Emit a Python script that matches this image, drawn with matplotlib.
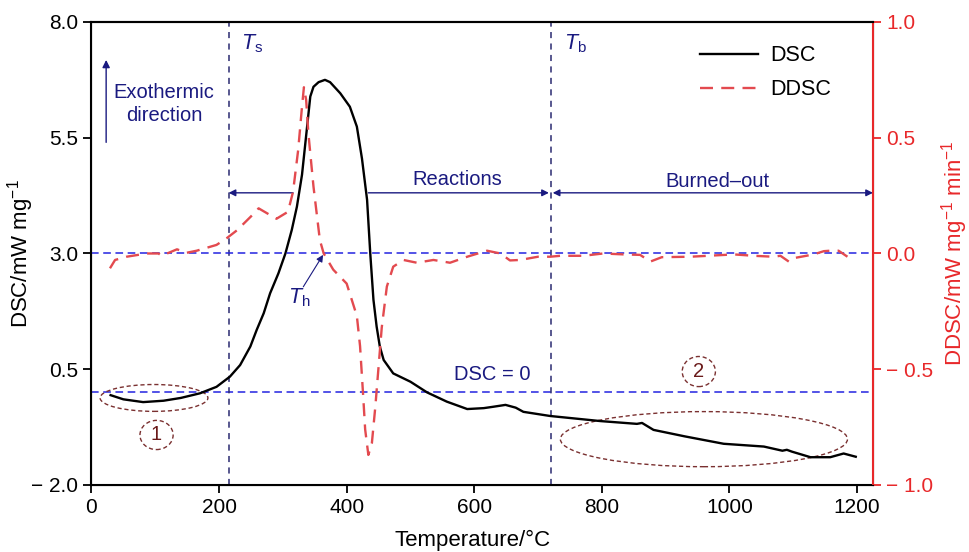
import matplotlib
matplotlib.use('Agg')
import matplotlib.pyplot as plt
from matplotlib.patches import Ellipse
from matplotlib.lines import Line2D

plt.rcParams['font.family'] = ['Liberation Sans', 'DejaVu Sans']
plt.rcParams['mathtext.fontset'] = 'custom'
plt.rcParams['mathtext.rm'] = 'Liberation Sans'
plt.rcParams['mathtext.it'] = 'Liberation Sans:italic'

# DSC curve (left axis)
dsc_t = [30, 50, 81, 113, 140, 170, 196, 217, 233, 249, 259, 270, 280, 293, 304,
         314, 322, 330, 338, 343, 348, 356, 366, 374, 390, 405, 416, 424, 432,
         437, 442, 447, 452, 458, 473, 500, 526, 557, 589, 615, 630, 649, 665,
         677, 719, 798, 855, 863, 881, 930, 991, 1054, 1083, 1090, 1098, 1127,
         1158, 1179, 1198]
dsc_v = [-0.06, -0.15, -0.21, -0.18, -0.12, -0.02, 0.12, 0.34, 0.59, 0.99, 1.35,
         1.71, 2.14, 2.57, 3.0, 3.51, 4.01, 4.7, 5.74, 6.39, 6.60, 6.70, 6.75,
         6.70, 6.46, 6.17, 5.74, 5.05, 4.16, 3.0, 2.0, 1.42, 0.99, 0.70, 0.41,
         0.23, 0.0, -0.2, -0.36, -0.34, -0.31, -0.27, -0.33, -0.42, -0.51, -0.62,
         -0.68, -0.66, -0.81, -0.95, -1.11, -1.17, -1.26, -1.24, -1.28, -1.40,
         -1.40, -1.32, -1.39]

# DDSC curve (right axis)
ddsc_t = [29, 37, 55, 87, 105, 110, 134, 149, 165, 196, 212, 228, 250, 262, 280,
          290, 308, 316, 324, 330, 333, 336.5, 340, 348, 358, 364, 379, 400, 416,
          421, 426, 429, 434, 439.5, 445, 455, 463, 473, 489, 510, 536, 562, 589,
          620, 641, 656, 672, 700, 719, 735, 771, 802, 834, 860, 876, 894, 939,
          1007, 1038, 1069, 1080, 1093, 1101, 1132, 1148, 1158, 1171, 1185]
ddsc_v = [-0.064, -0.028, -0.014, 0.0, 0.0, -0.01, 0.018, 0.003, 0.012, 0.037,
          0.066, 0.10, 0.16, 0.195, 0.166, 0.15, 0.18, 0.267, 0.447, 0.634, 0.718,
          0.663, 0.519, 0.289, 0.058, 0.0, -0.07, -0.13, -0.27, -0.40, -0.62,
          -0.76, -0.87, -0.82, -0.66, -0.32, -0.143, -0.057, -0.028, -0.04,
          -0.028, -0.04, -0.014, 0.012, 0.0, -0.03, -0.028, -0.014, -0.014,
          -0.01, -0.01, 0.0, -0.004, -0.006, -0.035, -0.016, -0.014, -0.004,
          -0.01, -0.014, -0.01, -0.035, -0.02, -0.004, 0.01, 0.012, 0.012, -0.014]

x_ticks = [0, 200, 400, 600, 800, 1000, 1200]
left_ticks = [-2.0, 0.5, 3.0, 5.5, 8.0]
left_labels = ['\u2212 2.0', '0.5', '3.0', '5.5', '8.0']
right_ticks = [-1.0, -0.5, 0.0, 0.5, 1.0]
right_labels = ['\u2212 1.0', '\u2212 0.5', '0.0', '0.5', '1.0']

t_s = 215
t_b = 720

navy = '#1a1a80'
red = '#e8282a'
ddsc_col = '#e34a4f'
brown = '#7a3030'
fs = 15
fs_lab = 16
fs_txt = 14.5

fig = plt.figure(figsize=(9.69, 5.52), dpi=100)
ax = fig.add_axes([0.0944, 0.1214, 0.8065, 0.8388])
ax2 = ax.twinx()

ax.plot(dsc_t, dsc_v, color='black', lw=1.7, zorder=5)
ax2.plot(ddsc_t, ddsc_v, color=ddsc_col, lw=1.7, linestyle=(0, (5.5, 3.5)), zorder=4)

ax.set_xlim(0, 1225)
ax.set_ylim(-2, 8)
ax2.set_ylim(-1, 1)

# reference lines
ax.axhline(0, color='#2323e0', lw=1.1, linestyle=(0, (5, 3)), zorder=2)
ax2.axhline(0, color='#2323e0', lw=1.1, linestyle=(0, (5, 3)), zorder=2)
for tv in (t_s, t_b):
    ax.axvline(tv, color='#2a2a70', lw=1.1, linestyle=(0, (4, 3.5)), zorder=2)

ax.set_xticks(x_ticks)
ax.set_yticks(left_ticks)
ax.set_yticklabels(left_labels)
ax2.set_yticks(right_ticks)
ax2.set_yticklabels(right_labels)

ax.tick_params(axis='both', direction='out', length=6, width=1.3, labelsize=fs)
ax2.tick_params(axis='y', direction='out', length=6, width=1.3, labelsize=fs,
                colors=red)
for sp in ['left', 'bottom', 'top']:
    ax.spines[sp].set_linewidth(1.5)
ax2.spines['right'].set_color(red)
ax2.spines['right'].set_linewidth(1.5)
ax2.spines['top'].set_linewidth(1.5)

ax.set_xlabel('Temperature/\u00b0C', fontsize=fs_lab)
ax.set_ylabel(r'DSC/mW mg$^{-1}$', fontsize=fs_lab)
ax2.set_ylabel(r'DDSC/mW mg$^{-1}$ min$^{-1}$', fontsize=fs_lab, color=red)
ax.xaxis.set_label_coords(0.488, -0.098)
ax.yaxis.set_label_coords(-0.071, 0.5)
ax2.yaxis.set_label_coords(1.084, 0.5)

# annotations
ax.annotate('', xy=(23, 7.24), xytext=(23, 5.34),
            arrowprops=dict(arrowstyle='-|>', color=navy, lw=1.0, mutation_scale=11))
ax.text(114, 6.23, 'Exothermic\ndirection', color=navy, fontsize=fs_txt,
        ha='center', va='center', linespacing=1.25)

ax.text(234, 7.52, r'$T_{\rm s}$', color=navy, fontsize=fs_txt + 1, ha='left', va='center')
ax.text(741, 7.52, r'$T_{\rm b}$', color=navy, fontsize=fs_txt + 1, ha='left', va='center')

y_arr = 4.31
ax.annotate('', xy=(t_s, y_arr), xytext=(316, y_arr),
            arrowprops=dict(arrowstyle='-|>', color=navy, lw=1.0, mutation_scale=10,
                            shrinkA=0, shrinkB=0))
ax.annotate('', xy=(t_b - 3, y_arr), xytext=(434, y_arr),
            arrowprops=dict(arrowstyle='-|>', color=navy, lw=1.0, mutation_scale=10,
                            shrinkA=0, shrinkB=0))
ax.annotate('', xy=(t_b + 3, y_arr), xytext=(1225, y_arr),
            arrowprops=dict(arrowstyle='<|-|>', color=navy, lw=1.0, mutation_scale=10,
                            shrinkA=0, shrinkB=0))
ax.text(574, 4.59, 'Reactions', color=navy, fontsize=fs_txt, ha='center', va='center')
ax.text(981, 4.55, 'Burned\u2013out', color=navy, fontsize=fs_txt, ha='center', va='center')

ax.annotate('', xy=(363, 2.97), xytext=(332, 2.28),
            arrowprops=dict(arrowstyle='-|>', color=navy, lw=0.8, mutation_scale=10,
                            shrinkA=0, shrinkB=0))
ax.text(325, 2.05, r'$T_{\rm h}$', color=navy, fontsize=fs_txt + 1, ha='center', va='center')

ax.text(628, 0.38, 'DSC = 0', color=navy, fontsize=fs_txt, ha='center', va='center')

# highlighted regions
ell_kw = dict(fill=False, edgecolor=brown, lw=1.0, linestyle=(0, (3, 2)), zorder=3)
ax.add_patch(Ellipse((98, -0.12), 169, 0.58, **ell_kw))
ax.add_patch(Ellipse((960, -1.01), 450, 1.19, **ell_kw))
ax.add_patch(Ellipse((102, -0.92), 52, 0.63, **ell_kw))
ax.add_patch(Ellipse((952, 0.45), 52, 0.65, **ell_kw))
ax.text(102, -0.92, '1', color='#6a1a1a', fontsize=fs_txt, ha='center', va='center')
ax.text(952, 0.45, '2', color='#6a1a1a', fontsize=fs_txt, ha='center', va='center')

handles = [Line2D([], [], color='black', lw=1.7),
           Line2D([], [], color=ddsc_col, lw=1.7, linestyle=(0, (5.5, 3.5)))]
ax.legend(handles, ['DSC', 'DDSC'], loc='upper left', bbox_to_anchor=(0.779, 0.95),
          frameon=False, fontsize=fs + 0.5, borderpad=0, borderaxespad=0,
          handlelength=2.7, handletextpad=0.55, labelspacing=0.6)

fig.savefig('out.png', dpi=100)
